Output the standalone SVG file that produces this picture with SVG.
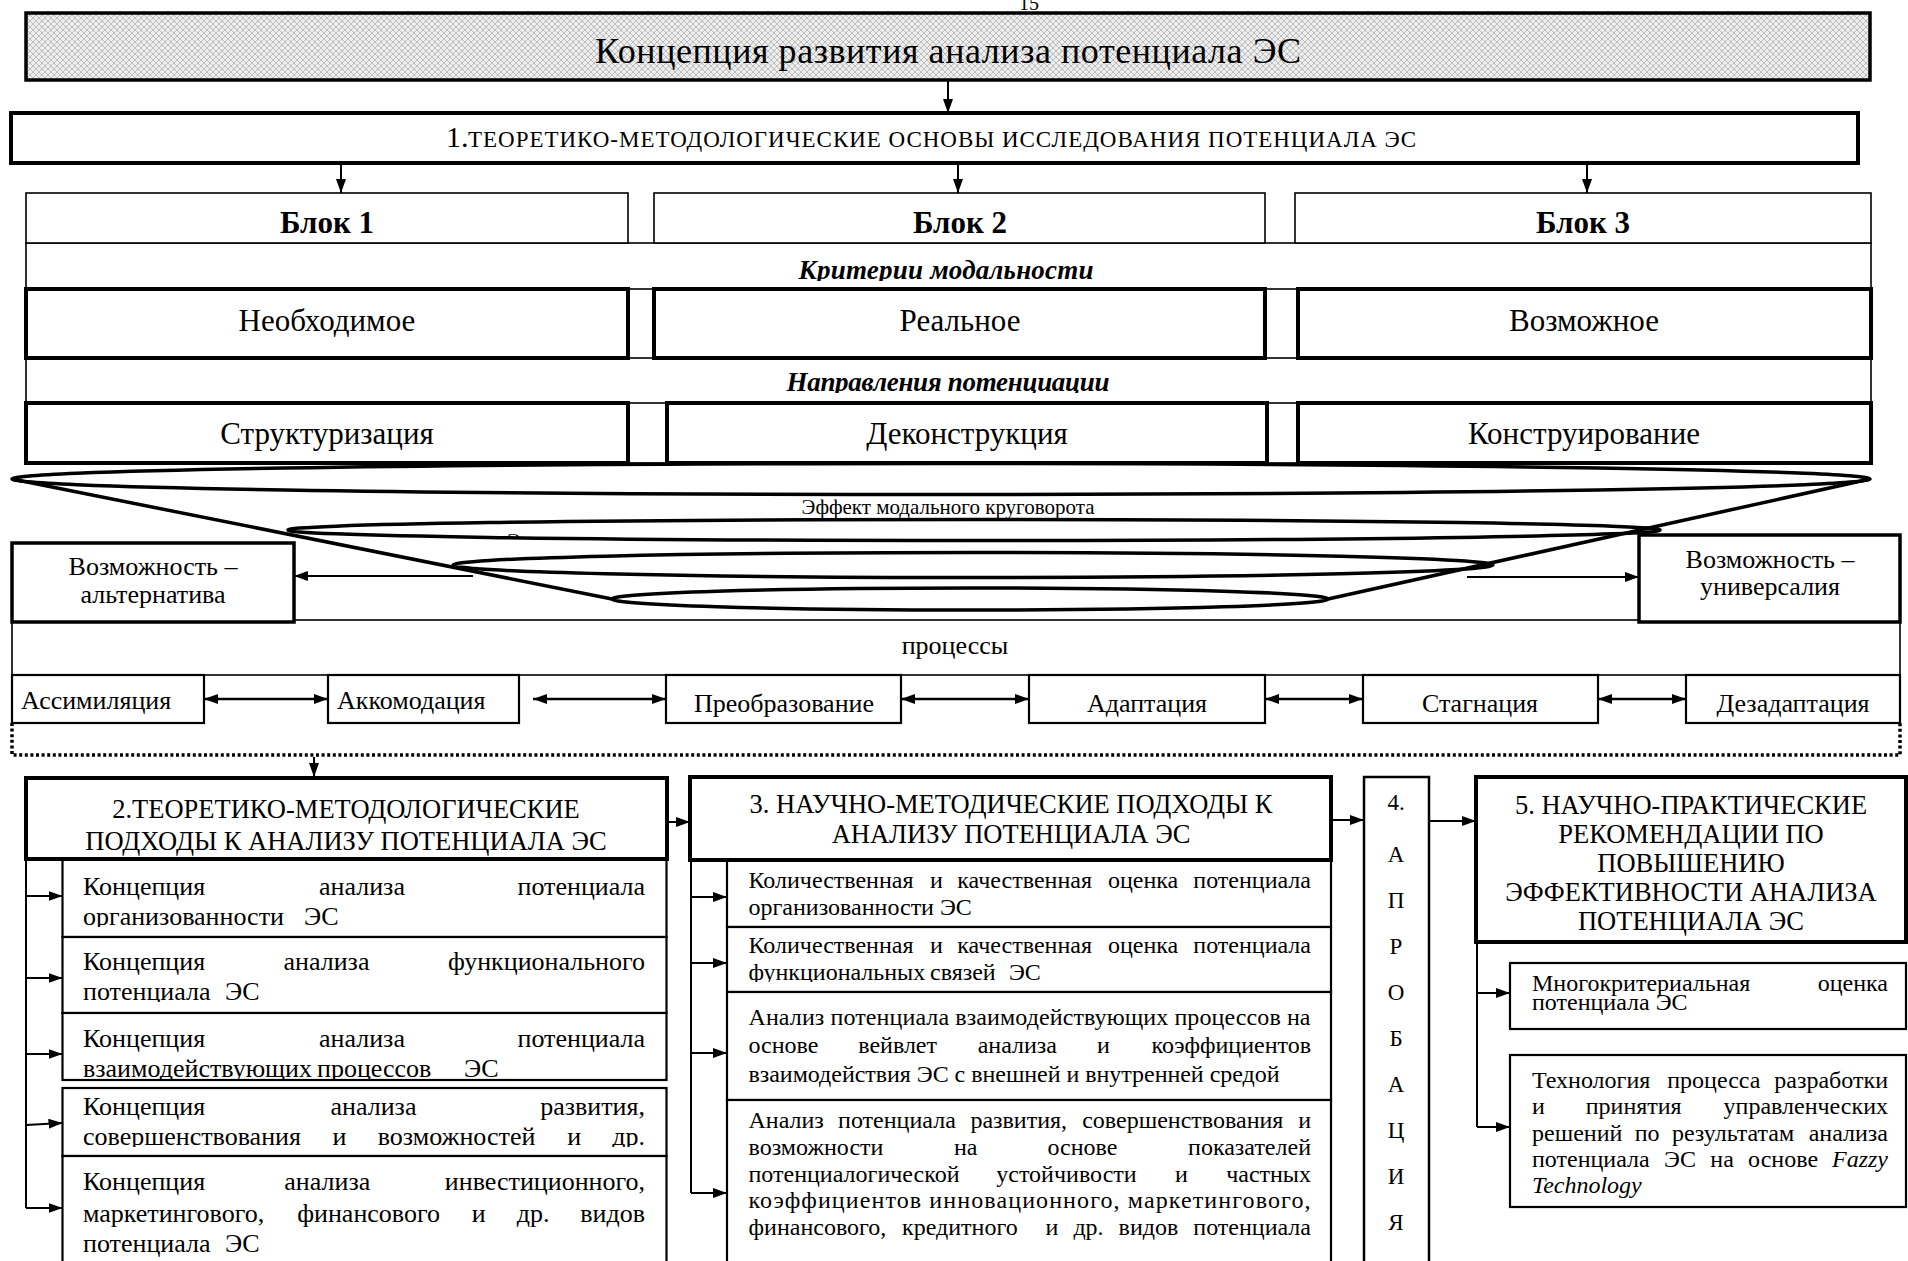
<svg xmlns="http://www.w3.org/2000/svg" width="1908" height="1261" viewBox="0 0 1908 1261">
<defs>
<style>
text{font-family:"Liberation Serif","Times New Roman",serif;fill:#000}
.thin{fill:#fff;stroke:#000;stroke-width:1.6}
.mid{fill:#fff;stroke:#000;stroke-width:2.2}
.thick{fill:#fff;stroke:#000;stroke-width:4}
.line{fill:none;stroke:#000;stroke-width:2}
.arr{fill:none;stroke:#000;stroke-width:2;marker-end:url(#ah)}
.darr{fill:none;stroke:#000;stroke-width:2.5;marker-end:url(#ah);marker-start:url(#ah)}
.curve{fill:none;stroke:#000;stroke-width:3.5}
.dot{fill:none;stroke:#000;stroke-width:3.5;stroke-dasharray:3 2.6}
.lab{font-size:31px;text-anchor:middle}
.blk{font-size:31px;font-weight:bold;text-anchor:middle}
.ital{font-size:27px;font-weight:bold;font-style:italic;text-anchor:middle}
.p26{font-size:26px}
.c26{font-size:26px;text-anchor:middle}
.hd{font-size:26.5px;text-anchor:middle}
.i2{font-size:26px}
.i3{font-size:24px}
.i5{font-size:24px}
.l4{font-size:23px;text-anchor:middle}
</style>
<pattern id="dots" width="6" height="6" patternUnits="userSpaceOnUse">
<rect width="6" height="6" fill="#ededed"/>
<path d="M3 0L6 3L3 6L0 3Z" fill="none" stroke="#bdbdbd" stroke-width="1"/>
</pattern>
<marker id="ah" viewBox="0 0 14 10" refX="14" refY="5" markerWidth="14" markerHeight="10" orient="auto-start-reverse" markerUnits="userSpaceOnUse">
<path d="M0,0L14,5L0,10z" fill="#000"/>
</marker>
<clipPath id="cK"><rect x="26" y="245" width="1845" height="36"/></clipPath>
<clipPath id="cN"><rect x="26" y="360" width="1845" height="33"/></clipPath>
<clipPath id="c21"><rect x="60" y="900" width="610" height="27"/></clipPath>
<clipPath id="c22"><rect x="60" y="975" width="610" height="27"/></clipPath>
<clipPath id="c23"><rect x="60" y="1052" width="610" height="27"/></clipPath>
<clipPath id="c24"><rect x="60" y="1120" width="610" height="27"/></clipPath>
<clipPath id="c32"><rect x="728" y="958" width="600" height="24"/></clipPath>
<clipPath id="cE"><rect x="500" y="520" width="30" height="19"/></clipPath>
</defs>
<rect width="1908" height="1261" fill="#fff"/>
<text x="1019" y="10" font-size="20">15</text>

<g id="title">
<rect x="26" y="13" width="1844" height="67" fill="url(#dots)" stroke="#000" stroke-width="3.5"/>
<text x="948" y="63" font-size="36" text-anchor="middle" textLength="706" lengthAdjust="spacing">Концепция развития анализа потенциала ЭС</text>
</g>

<g id="box1">
<rect x="11" y="113" width="1847" height="50" class="thick"/>
<text x="446" y="147" font-size="30">1.</text>
<text x="468" y="147" font-size="23" textLength="948" lengthAdjust="spacing">ТЕОРЕТИКО-МЕТОДОЛОГИЧЕСКИЕ ОСНОВЫ ИССЛЕДОВАНИЯ ПОТЕНЦИАЛА ЭС</text>
</g>

<g id="frame">
<rect x="26" y="243" width="1845" height="220" class="thin"/>
<rect x="26" y="289" width="1845" height="69" class="thin"/>
<rect x="26" y="403" width="1845" height="60" class="thin"/>
<text class="ital" x="946" y="279" clip-path="url(#cK)" textLength="295" lengthAdjust="spacing">Критерии модальности</text>
<text class="ital" x="948" y="391" clip-path="url(#cN)" textLength="323" lengthAdjust="spacing">Направления потенциации</text>
</g>

<g id="blok1"><rect x="26" y="193" width="602" height="50" class="thin"/><text class="blk" x="327" y="233">Блок 1</text></g>
<g id="blok2"><rect x="654" y="193" width="611" height="50" class="thin"/><text class="blk" x="960" y="233">Блок 2</text></g>
<g id="blok3"><rect x="1295" y="193" width="576" height="50" class="thin"/><text class="blk" x="1583" y="233">Блок 3</text></g>

<g id="m1"><rect x="26" y="289" width="602" height="69" class="thick"/><text class="lab" x="327" y="331">Необходимое</text></g>
<g id="m2"><rect x="654" y="289" width="611" height="69" class="thick"/><text class="lab" x="960" y="331">Реальное</text></g>
<g id="m3"><rect x="1298" y="289" width="573" height="69" class="thick"/><text class="lab" x="1584" y="331">Возможное</text></g>

<g id="s1"><rect x="26" y="403" width="602" height="60" class="thick"/><text class="lab" x="327" y="444">Структуризация</text></g>
<g id="s2"><rect x="667" y="403" width="600" height="60" class="thick"/><text class="lab" x="967" y="444">Деконструкция</text></g>
<g id="s3"><rect x="1298" y="403" width="573" height="60" class="thick"/><text class="lab" x="1584" y="444">Конструирование</text></g>

<g id="cycle">
<ellipse cx="941" cy="479" rx="929" ry="15.5" class="curve"/>
<ellipse cx="974" cy="530" rx="686" ry="10.5" class="curve"/>
<ellipse cx="973" cy="565" rx="520" ry="12.5" class="curve"/>
<ellipse cx="970" cy="599" rx="358" ry="11" class="curve"/>
<path d="M12,479 L612,599 M1870,479 L1328,599" class="curve" stroke-width="3"/>
<text x="948" y="514" font-size="21" text-anchor="middle">Эффект модального круговорота</text>
<text x="507" y="548" font-size="21" clip-path="url(#cE)">Э</text>
</g>

<g id="proc-frame">
<rect x="12" y="620" width="1888" height="55" class="thin"/>
<text class="c26" x="955" y="654">процессы</text>
</g>

<g id="alt"><rect x="12" y="543" width="282" height="79" fill="#fff" stroke="#000" stroke-width="3.5"/>
<text class="c26" x="153" y="575">Возможность –</text><text class="c26" x="153" y="603">альтернатива</text></g>
<g id="univ"><rect x="1639" y="535" width="261" height="87" fill="#fff" stroke="#000" stroke-width="3.5"/>
<text class="c26" x="1770" y="568">Возможность –</text><text class="c26" x="1770" y="595">универсалия</text></g>

<g id="p1"><rect x="12" y="675" width="192" height="48" class="mid"/><text class="p26" x="21" y="709">Ассимиляция</text></g>
<g id="p2"><rect x="328" y="675" width="191" height="48" class="mid"/><text class="p26" x="337" y="709">Аккомодация</text></g>
<g id="p3"><rect x="666" y="675" width="235" height="48" class="mid"/><text class="c26" x="784" y="712">Преобразование</text></g>
<g id="p4"><rect x="1029" y="675" width="236" height="48" class="mid"/><text class="c26" x="1147" y="712">Адаптация</text></g>
<g id="p5"><rect x="1363" y="675" width="235" height="48" class="mid"/><text class="c26" x="1480" y="712">Стагнация</text></g>
<g id="p6"><rect x="1686" y="675" width="214" height="48" class="mid"/><text class="c26" x="1793" y="712">Дезадаптация</text></g>

<g id="box2-items">
<rect x="62.5" y="859" width="604" height="78" class="mid"/>
<rect x="62.5" y="937" width="604" height="76" class="mid"/>
<rect x="62.5" y="1013" width="604" height="67" class="mid"/>
<rect x="62.5" y="1088" width="604" height="68" class="mid"/>
<rect x="62.5" y="1156" width="604" height="120" class="mid"/>
<text class="i2" y="895"><tspan x="83">Концепция</tspan><tspan x="319">анализа</tspan><tspan x="645" text-anchor="end">потенциала</tspan></text>
<text class="i2" y="925" clip-path="url(#c21)"><tspan x="83">организованности</tspan><tspan x="304">ЭС</tspan></text>
<text class="i2" y="970"><tspan x="83">Концепция</tspan><tspan x="283.5">анализа</tspan><tspan x="645" text-anchor="end">функционального</tspan></text>
<text class="i2" y="1000" clip-path="url(#c22)"><tspan x="83">потенциала</tspan><tspan x="225">ЭС</tspan></text>
<text class="i2" y="1047"><tspan x="83">Концепция</tspan><tspan x="319">анализа</tspan><tspan x="645" text-anchor="end">потенциала</tspan></text>
<text class="i2" y="1077" clip-path="url(#c23)"><tspan x="83">взаимодействующих</tspan><tspan x="317">процессов</tspan><tspan x="464">ЭС</tspan></text>
<text class="i2" y="1115"><tspan x="83">Концепция</tspan><tspan x="330.5">анализа</tspan><tspan x="645" text-anchor="end">развития,</tspan></text>
<text class="i2" y="1145" clip-path="url(#c24)"><tspan x="83">совершенствования</tspan><tspan x="332.5">и</tspan><tspan x="377.7">возможностей</tspan><tspan x="567.2">и</tspan><tspan x="645" text-anchor="end">др.</tspan></text>
<text class="i2" y="1190"><tspan x="83">Концепция</tspan><tspan x="284.3">анализа</tspan><tspan x="645" text-anchor="end">инвестиционного,</tspan></text>
<text class="i2" y="1222"><tspan x="83">маркетингового,</tspan><tspan x="297.2">финансового</tspan><tspan x="471.8">и</tspan><tspan x="516.7">др.</tspan><tspan x="645" text-anchor="end">видов</tspan></text>
<text class="i2" y="1252"><tspan x="83">потенциала</tspan><tspan x="225">ЭС</tspan></text>
</g>
<g id="box2">
<rect x="26" y="778" width="641" height="81" class="thick"/>
<text class="hd" x="346" y="818">2.ТЕОРЕТИКО-МЕТОДОЛОГИЧЕСКИЕ</text>
<text class="hd" x="346" y="850">ПОДХОДЫ К АНАЛИЗУ ПОТЕНЦИАЛА ЭС</text>
</g>

<g id="box3-items">
<rect x="727" y="860" width="604" height="67" class="mid"/>
<rect x="727" y="927" width="604" height="65" class="mid"/>
<rect x="727" y="992" width="604" height="108" class="mid"/>
<rect x="727" y="1100" width="604" height="176" class="mid"/>
<text class="i3" y="888"><tspan x="748.5">Количественная</tspan><tspan x="929.9">и</tspan><tspan x="957.3">качественная</tspan><tspan x="1107.9">оценка</tspan><tspan x="1311" text-anchor="end">потенциала</tspan></text>
<text class="i3" x="748.5" y="915">организованности ЭС</text>
<text class="i3" y="953"><tspan x="748.5">Количественная</tspan><tspan x="929.9">и</tspan><tspan x="957.3">качественная</tspan><tspan x="1107.9">оценка</tspan><tspan x="1311" text-anchor="end">потенциала</tspan></text>
<text class="i3" y="980" clip-path="url(#c32)"><tspan x="748.5">функциональных</tspan><tspan x="930">связей</tspan><tspan x="1009">ЭС</tspan></text>
<text class="i3" x="748.5" y="1025" textLength="562" lengthAdjust="spacing">Анализ потенциала взаимодействующих процессов на</text>
<text class="i3" y="1053"><tspan x="748.5">основе</tspan><tspan x="858.2">вейвлет</tspan><tspan x="977.7">анализа</tspan><tspan x="1097">и</tspan><tspan x="1311" text-anchor="end">коэффициентов</tspan></text>
<text class="i3" x="748.5" y="1082" textLength="531" lengthAdjust="spacing">взаимодействия ЭС с внешней и внутренней средой</text>
<text class="i3" y="1128"><tspan x="748.5">Анализ</tspan><tspan x="838.1">потенциала</tspan><tspan x="970.4">развития,</tspan><tspan x="1082.2">совершенствования</tspan><tspan x="1311" text-anchor="end">и</tspan></text>
<text class="i3" y="1155"><tspan x="748.5">возможности</tspan><tspan x="954">на</tspan><tspan x="1047.5">основе</tspan><tspan x="1311" text-anchor="end">показателей</tspan></text>
<text class="i3" y="1182"><tspan x="748.5">потенциалогической</tspan><tspan x="996.3">устойчивости</tspan><tspan x="1174.9">и</tspan><tspan x="1311" text-anchor="end">частных</tspan></text>
<text class="i3" x="748.5" y="1208" textLength="562" lengthAdjust="spacing">коэффициентов инновационного, маркетингового,</text>
<text class="i3" y="1235"><tspan x="748.5">финансового,</tspan><tspan x="902">кредитного</tspan><tspan x="1045.6">и</tspan><tspan x="1073.4">др.</tspan><tspan x="1118.6">видов</tspan><tspan x="1311" text-anchor="end">потенциала</tspan></text>
</g>
<g id="box3">
<rect x="690" y="777" width="641" height="83" class="thick"/>
<text class="hd" x="1011" y="813">3. НАУЧНО-МЕТОДИЧЕСКИЕ ПОДХОДЫ К</text>
<text class="hd" x="1011" y="843">АНАЛИЗУ ПОТЕНЦИАЛА ЭС</text>
</g>

<g id="box4">
<rect x="1364" y="777" width="65" height="500" fill="#fff" stroke="#000" stroke-width="2.5"/>
<text class="l4" x="1396" y="810">4.</text>
<text class="l4" x="1396" y="862">А</text>
<text class="l4" x="1396" y="908">П</text>
<text class="l4" x="1396" y="954">Р</text>
<text class="l4" x="1396" y="1000">О</text>
<text class="l4" x="1396" y="1046">Б</text>
<text class="l4" x="1396" y="1092">А</text>
<text class="l4" x="1396" y="1138">Ц</text>
<text class="l4" x="1396" y="1184">И</text>
<text class="l4" x="1396" y="1230">Я</text>
</g>

<g id="box5">
<rect x="1476" y="777" width="430" height="165" class="thick"/>
<text class="hd" x="1691" y="814">5. НАУЧНО-ПРАКТИЧЕСКИЕ</text>
<text class="hd" x="1691" y="843">РЕКОМЕНДАЦИИ ПО</text>
<text class="hd" x="1691" y="872">ПОВЫШЕНИЮ</text>
<text class="hd" x="1691" y="901">ЭФФЕКТИВНОСТИ АНАЛИЗА</text>
<text class="hd" x="1691" y="930">ПОТЕНЦИАЛА ЭС</text>
</g>
<g id="box5-item1">
<rect x="1510" y="963" width="396" height="66" class="mid"/>
<text class="i5" y="991"><tspan x="1532">Многокритериальная</tspan><tspan x="1888" text-anchor="end">оценка</tspan></text>
<text class="i5" x="1532" y="1010">потенциала ЭС</text>
</g>
<g id="box5-item2">
<rect x="1510" y="1055" width="396" height="152" class="mid"/>
<text class="i5" y="1088"><tspan x="1532">Технология</tspan><tspan x="1667.2">процесса</tspan><tspan x="1888" text-anchor="end">разработки</tspan></text>
<text class="i5" y="1114"><tspan x="1532">и</tspan><tspan x="1585.7">принятия</tspan><tspan x="1888" text-anchor="end">управленческих</tspan></text>
<text class="i5" y="1141"><tspan x="1532">решений</tspan><tspan x="1634.7">по</tspan><tspan x="1671.9">результатам</tspan><tspan x="1888" text-anchor="end">анализа</tspan></text>
<text class="i5" y="1167"><tspan x="1532">потенциала</tspan><tspan x="1664.1">ЭС</tspan><tspan x="1710.3">на</tspan><tspan x="1748.1">основе</tspan><tspan x="1888" text-anchor="end" font-style="italic">Fazzy</tspan></text>
<text class="i5" x="1532" y="1193" font-style="italic">Technology</text>
</g>

<g id="connectors">
<line x1="948" y1="80" x2="948" y2="113" class="arr"/>
<line x1="341" y1="163" x2="341" y2="193" class="arr"/>
<line x1="958" y1="163" x2="958" y2="193" class="arr"/>
<line x1="1587" y1="163" x2="1587" y2="193" class="arr"/>
<line x1="473" y1="576" x2="294" y2="576" class="arr"/>
<line x1="1467" y1="577" x2="1639" y2="577" class="arr"/>
<line x1="204" y1="699" x2="328" y2="699" class="darr"/>
<line x1="533" y1="699" x2="666" y2="699" class="darr"/>
<line x1="901" y1="699" x2="1029" y2="699" class="darr"/>
<line x1="1265" y1="699" x2="1363" y2="699" class="darr"/>
<line x1="1598" y1="699" x2="1686" y2="699" class="darr"/>
<path d="M12,723 V755 H1900 V723" class="dot"/>
<line x1="314" y1="757" x2="314" y2="777" class="arr"/>
<line x1="667" y1="822" x2="690" y2="822" class="arr"/>
<line x1="1331" y1="820" x2="1364" y2="820" class="arr"/>
<line x1="1429" y1="821" x2="1476" y2="821" class="arr"/>
<path d="M26,859 V1208" class="line"/>
<line x1="26" y1="896" x2="62.5" y2="896" class="arr"/>
<line x1="26" y1="978" x2="62.5" y2="978" class="arr"/>
<line x1="26" y1="1054" x2="62.5" y2="1054" class="arr"/>
<line x1="26" y1="1125" x2="62.5" y2="1123" class="arr"/>
<line x1="26" y1="1208" x2="62.5" y2="1208" class="arr"/>
<path d="M691,860 V1193" class="line"/>
<line x1="691" y1="897" x2="727" y2="897" class="arr"/>
<line x1="691" y1="963" x2="727" y2="963" class="arr"/>
<line x1="691" y1="1053" x2="727" y2="1053" class="arr"/>
<line x1="691" y1="1193" x2="727" y2="1193" class="arr"/>
<path d="M1477,942 V1127" class="line"/>
<line x1="1477" y1="993" x2="1510" y2="993" class="arr"/>
<line x1="1477" y1="1127" x2="1510" y2="1127" class="arr"/>
</g>
</svg>
